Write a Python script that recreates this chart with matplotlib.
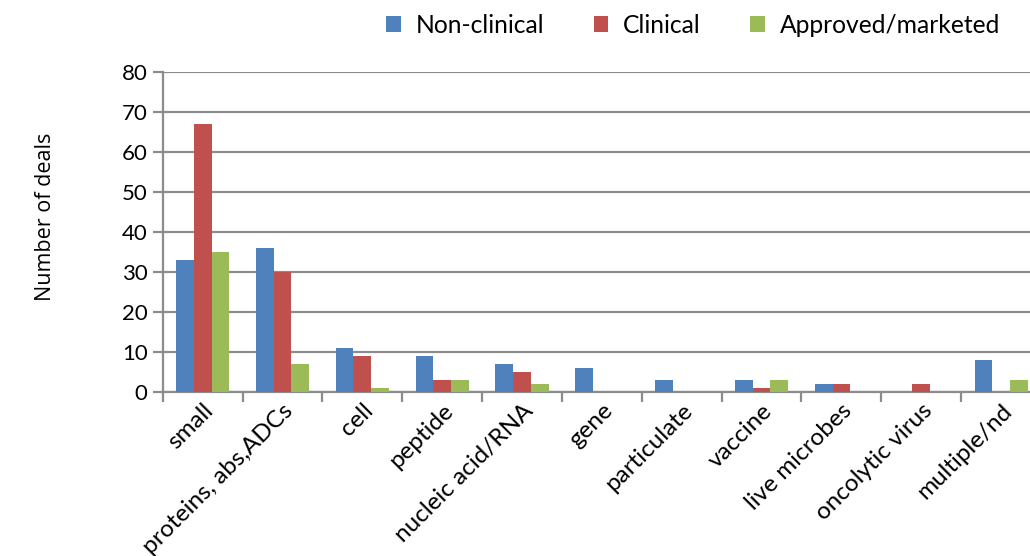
import numpy as np
import matplotlib.pyplot as plt
from matplotlib.ticker import FixedLocator

# deal counts per modality
categories = ["small", "proteins, abs,ADCs", "cell", "peptide", "nucleic acid/RNA", "gene",
              "particulate", "vaccine", "live microbes", "oncolytic virus", "multiple/nd"]
non_clinical = [33, 36, 11, 9, 7, 6, 3, 3, 2, 0, 8]
clinical = [67, 30, 9, 3, 5, 0, 0, 1, 2, 2, 0]
approved = [35, 7, 1, 3, 2, 0, 0, 3, 0, 0, 3]
series_labels = ["Non-clinical", "Clinical", "Approved/marketed"]
colors = ["#4F81BD", "#C0504D", "#9BBB59"]

plt.rcParams['font.family'] = ['Lato', 'DejaVu Sans']
grey = "#8C8C8C"

fig = plt.figure(figsize=(10.3, 5.56), dpi=100)
ax = fig.add_axes([0.158, 0.2955, 0.8527, 0.5755])

x = np.arange(len(categories))
w = 0.222
for i, vals in enumerate([non_clinical, clinical, approved]):
    ax.bar(x + (i - 1) * w, vals, width=w, color=colors[i], label=series_labels[i], zorder=3)

ax.set_xlim(-0.5, len(categories) - 0.5)
ax.set_ylim(0, 80)
ax.set_yticks(range(0, 81, 10))
ax.yaxis.grid(True, color=grey, linewidth=1.6, zorder=0)
ax.set_axisbelow(True)

for s in ["top", "right"]:
    ax.spines[s].set_visible(False)
for s in ["left", "bottom"]:
    ax.spines[s].set_color(grey)
    ax.spines[s].set_linewidth(1.6)

ax.tick_params(axis='y', length=7, width=1.6, color=grey, labelsize=16, pad=4)
ax.set_xticks(x)
ax.set_xticklabels(categories, rotation=45, ha='right', rotation_mode='anchor', fontsize=17.5)
ax.tick_params(axis='x', which='major', length=0, pad=6)
ax.xaxis.set_minor_locator(FixedLocator(np.arange(len(categories) + 1) - 0.5))
ax.tick_params(axis='x', which='minor', length=7, width=1.6, color=grey)

fig.text(0.044, 0.61, "Number of deals", rotation=90, ha='center', va='center',
         fontsize=15.5, family=['Open Sans', 'DejaVu Sans'])

fig.legend(loc='center', bbox_to_anchor=(0.673, 0.955), ncol=3, frameon=False, fontsize=17.7,
           handlelength=0.6, handleheight=0.6, handletextpad=0.6, columnspacing=2.0)

fig.savefig("out.png", dpi=100)
